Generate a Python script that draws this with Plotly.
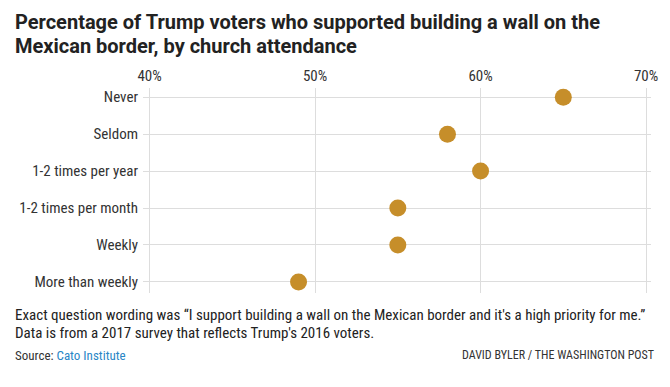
import plotly.graph_objects as go

categories = ["Never", "Seldom", "1-2 times per year", "1-2 times per month", "Weekly", "More than weekly"]
values = [65, 58, 60, 55, 55, 49]
x_ticks = [40, 50, 60, 70]
x_tick_labels = ["40%", "50%", "60%", "70%"]

FONT = "Roboto, Arial, sans-serif"
NARROW = "Liberation Sans Narrow, Roboto Condensed, Arial Narrow, sans-serif"
GRID = "#dddddd"

L, R, T, B = 143, 17, 88, 94
PW = 670 - L - R
PH = 387 - T - B


def px(x):
    return (x - L) / PW


def py(y):
    return (387 - B - y) / PH


fig = go.Figure()
fig.add_trace(go.Scatter(
    x=values, y=list(range(len(categories))), mode="markers",
    marker=dict(size=17, color="#c68e2a"),
    hoverinfo="skip", showlegend=False,
))

fig.update_layout(
    width=670, height=387,
    margin=dict(l=L, r=R, t=T, b=B),
    paper_bgcolor="white", plot_bgcolor="white",
    xaxis=dict(
        range=[39.6, 70.3], side="top",
        tickvals=x_ticks, ticktext=x_tick_labels,
        showgrid=True, gridcolor=GRID, gridwidth=1, zeroline=False, showline=False,
        ticks="", ticklabelstandoff=3,
        tickfont=dict(family=NARROW, size=15, color="#333333"),
    ),
    yaxis=dict(
        range=[5.3, -0.25],
        tickvals=list(range(len(categories))), ticktext=categories,
        showgrid=True, gridcolor=GRID, gridwidth=1, zeroline=False, showline=False,
        ticks="", ticklabelstandoff=4,
        tickfont=dict(family=NARROW, size=15, color="#333333"),
    ),
)

title_lines = ["Percentage of Trump voters who supported building a wall on the",
               "Mexican border, by church attendance"]
for line, yy in zip(title_lines, [22, 46]):
    fig.add_annotation(
        text=f"<b>{line}</b>", xref="paper", yref="paper",
        x=px(12), y=py(yy), xanchor="left", yanchor="middle", showarrow=False,
        font=dict(family=FONT, size=20, color="#222222"),
    )

note_lines = ["Exact question wording was \u201cI support building a wall on the Mexican border and it's a high priority for me.\u201d",
              "Data is from a 2017 survey that reflects Trump's 2016 voters."]
for line, yy in zip(note_lines, [315, 333]):
    fig.add_annotation(
        text=line, xref="paper", yref="paper",
        x=px(12), y=py(yy), xanchor="left", yanchor="middle", showarrow=False,
        font=dict(family=NARROW, size=15, color="#222222"),
    )

fig.add_annotation(
    text="Source: <span style='color:#2a86c6'>Cato Institute</span>",
    xref="paper", yref="paper", x=px(12), y=py(355), xanchor="left", yanchor="middle",
    showarrow=False, font=dict(family=NARROW, size=13, color="#333333"),
)
fig.add_annotation(
    text="DAVID BYLER / THE WASHINGTON POST",
    xref="paper", yref="paper", x=px(658), y=py(355), xanchor="right", yanchor="middle",
    showarrow=False, font=dict(family=NARROW, size=12, color="#333333"),
)

fig.write_html("out.html", config={"displayModeBar": False},
               post_script="document.body.style.margin='0';document.body.style.overflow='hidden';")
